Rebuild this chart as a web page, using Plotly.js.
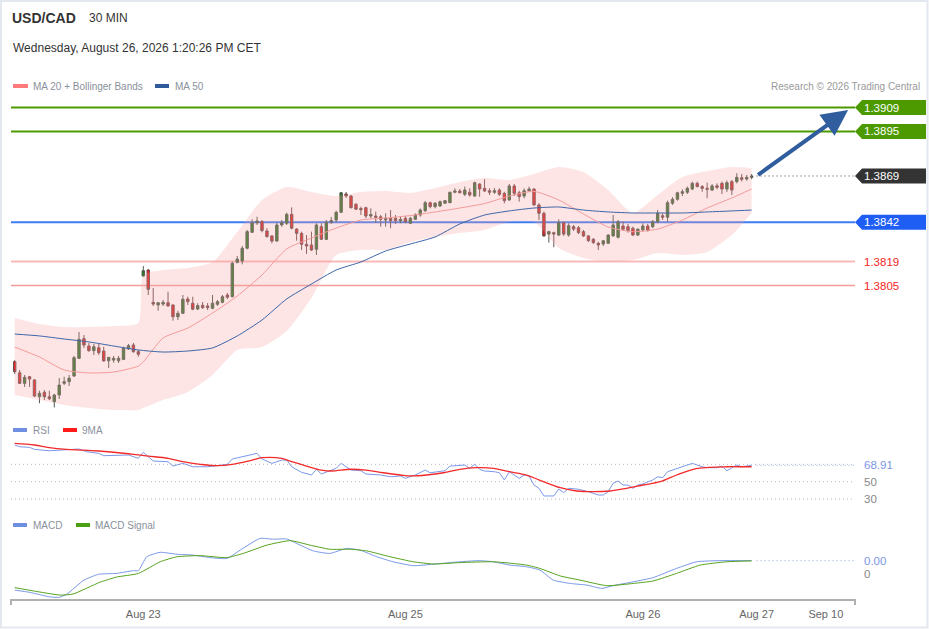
<!DOCTYPE html>
<html><head><meta charset="utf-8">
<script src="https://cdn.plot.ly/plotly-3.0.1.min.js"></script>
<style>html,body{margin:0;padding:0;background:#fff;}#chart{width:929px;height:629px;}</style>
</head><body><div id="chart"></div>
<script>
// ---------- DATA ----------
const symbol = "USD/CAD";
const period = "30 MIN";
const stamp = "Wednesday, August 26, 2026 1:20:26 PM CET";

const tickIdx = [26, 79, 127, 150, 164];
const tickLabels = ["Aug 23", "Aug 25", "Aug 26", "Aug 27", "Sep 10"];

const open = [
1.37606,1.37541,1.37479,1.37518,1.37499,1.37401,1.37427,1.37401,1.37372,1.37411,
1.37479,1.37489,1.37522,1.37625,1.37740,1.37697,1.37670,1.37687,1.37668,1.37611,
1.37615,1.37611,1.37619,1.37680,1.37703,1.37664,1.38106,1.38141,1.37952,1.37937,
1.37942,1.37950,1.37937,1.37868,1.37888,1.37972,1.37947,1.37913,1.37935,1.37931,
1.37917,1.37941,1.37952,1.37995,1.37985,1.38186,1.38194,1.38268,1.38361,1.38417,
1.38423,1.38369,1.38340,1.38310,1.38404,1.38414,1.38466,1.38380,1.38355,1.38291,
1.38287,1.38262,1.38394,1.38320,1.38421,1.38433,1.38478,1.38585,1.38573,1.38525,
1.38500,1.38505,1.38456,1.38456,1.38452,1.38433,1.38443,1.38443,1.38427,1.38443,
1.38414,1.38437,1.38462,1.38487,1.38534,1.38511,1.38515,1.38531,1.38534,1.38595,
1.38602,1.38583,1.38595,1.38573,1.38643,1.38618,1.38604,1.38595,1.38608,1.38589,
1.38550,1.38632,1.38592,1.38573,1.38604,1.38614,1.38521,1.38472,1.38351,1.38359,
1.38345,1.38417,1.38345,1.38394,1.38388,1.38365,1.38340,1.38320,1.38297,1.38293,
1.38297,1.38340,1.38332,1.38398,1.38394,1.38385,1.38345,1.38375,1.38398,1.38394,
1.38423,1.38458,1.38449,1.38531,1.38554,1.38589,1.38595,1.38614,1.38647,1.38628,
1.38618,1.38608,1.38633,1.38647,1.38614,1.38657,1.38657,1.38680,1.38672,1.38682];
const high = [
1.37615,1.37557,1.37528,1.37522,1.37504,1.37436,1.37440,1.37436,1.37417,1.37510,
1.37518,1.37528,1.37639,1.37779,1.37761,1.37715,1.37709,1.37709,1.37693,1.37633,
1.37639,1.37639,1.37693,1.37709,1.37715,1.37674,1.38164,1.38147,1.38036,1.37954,
1.37966,1.38014,1.37940,1.37903,1.37995,1.37985,1.37985,1.37947,1.37954,1.37948,
1.37995,1.37966,1.37995,1.38007,1.38190,1.38223,1.38281,1.38375,1.38437,1.38452,
1.38433,1.38385,1.38345,1.38417,1.38433,1.38476,1.38507,1.38385,1.38365,1.38345,
1.38365,1.38414,1.38414,1.38433,1.38451,1.38487,1.38597,1.38597,1.38579,1.38532,
1.38511,1.38511,1.38501,1.38482,1.38462,1.38472,1.38491,1.38462,1.38456,1.38456,
1.38452,1.38472,1.38501,1.38544,1.38540,1.38538,1.38546,1.38550,1.38598,1.38618,
1.38614,1.38628,1.38618,1.38657,1.38647,1.38671,1.38618,1.38620,1.38618,1.38598,
1.38643,1.38643,1.38604,1.38618,1.38628,1.38618,1.38531,1.38482,1.38371,1.38365,
1.38437,1.38423,1.38414,1.38404,1.38398,1.38375,1.38345,1.38328,1.38306,1.38316,
1.38351,1.38462,1.38433,1.38423,1.38410,1.38394,1.38385,1.38414,1.38410,1.38433,
1.38491,1.38472,1.38546,1.38566,1.38598,1.38612,1.38628,1.38657,1.38657,1.38637,
1.38651,1.38643,1.38647,1.38657,1.38663,1.38667,1.38706,1.38702,1.38696,1.38702];
const low = [
1.37534,1.37475,1.37458,1.37458,1.37399,1.37363,1.37382,1.37382,1.37339,1.37388,
1.37469,1.37464,1.37516,1.37621,1.37686,1.37664,1.37645,1.37645,1.37606,1.37569,
1.37600,1.37598,1.37615,1.37674,1.37658,1.37635,1.38102,1.37995,1.37931,1.37903,
1.37931,1.37927,1.37845,1.37849,1.37884,1.37937,1.37907,1.37907,1.37913,1.37907,
1.37912,1.37931,1.37947,1.37972,1.37982,1.38180,1.38174,1.38262,1.38359,1.38404,
1.38361,1.38330,1.38297,1.38306,1.38394,1.38404,1.38379,1.38312,1.38258,1.38235,
1.38252,1.38229,1.38316,1.38316,1.38410,1.38421,1.38474,1.38562,1.38500,1.38491,
1.38462,1.38443,1.38443,1.38417,1.38394,1.38394,1.38385,1.38410,1.38414,1.38414,
1.38410,1.38433,1.38452,1.38480,1.38501,1.38501,1.38509,1.38527,1.38532,1.38589,
1.38589,1.38573,1.38569,1.38569,1.38569,1.38598,1.38579,1.38585,1.38573,1.38531,
1.38546,1.38573,1.38540,1.38560,1.38598,1.38517,1.38433,1.38336,1.38301,1.38274,
1.38340,1.38340,1.38336,1.38369,1.38351,1.38334,1.38305,1.38293,1.38258,1.38281,
1.38293,1.38336,1.38326,1.38371,1.38359,1.38340,1.38340,1.38365,1.38365,1.38385,
1.38414,1.38433,1.38423,1.38521,1.38546,1.38573,1.38585,1.38608,1.38624,1.38598,
1.38560,1.38602,1.38612,1.38585,1.38597,1.38579,1.38647,1.38657,1.38663,1.38671];
const close = [
1.37547,1.37479,1.37514,1.37504,1.37405,1.37421,1.37401,1.37389,1.37411,1.37469,
1.37489,1.37509,1.37629,1.37736,1.37703,1.37670,1.37693,1.37658,1.37610,1.37631,
1.37625,1.37625,1.37684,1.37699,1.37664,1.37649,1.38137,1.38028,1.37942,1.37950,
1.37952,1.37931,1.37868,1.37888,1.37970,1.37956,1.37912,1.37933,1.37921,1.37921,
1.37947,1.37956,1.37985,1.37982,1.38180,1.38205,1.38268,1.38365,1.38417,1.38427,
1.38371,1.38336,1.38310,1.38404,1.38417,1.38466,1.38385,1.38355,1.38291,1.38281,
1.38258,1.38404,1.38320,1.38420,1.38430,1.38478,1.38592,1.38573,1.38505,1.38496,
1.38493,1.38456,1.38465,1.38449,1.38437,1.38443,1.38429,1.38429,1.38437,1.38423,
1.38443,1.38462,1.38491,1.38534,1.38511,1.38531,1.38540,1.38546,1.38595,1.38602,
1.38592,1.38608,1.38579,1.38651,1.38614,1.38602,1.38595,1.38604,1.38583,1.38546,
1.38632,1.38589,1.38569,1.38604,1.38614,1.38521,1.38472,1.38340,1.38365,1.38351,
1.38417,1.38351,1.38400,1.38380,1.38359,1.38340,1.38312,1.38301,1.38287,1.38312,
1.38345,1.38404,1.38423,1.38379,1.38371,1.38345,1.38379,1.38398,1.38371,1.38423,
1.38472,1.38449,1.38534,1.38554,1.38592,1.38598,1.38618,1.38647,1.38628,1.38618,
1.38612,1.38632,1.38624,1.38614,1.38651,1.38608,1.38682,1.38671,1.38682,1.38690];

const bandIdx = [0,5,10,15,20,25,26,30,35,40,45,50,55,60,65,70,75,80,85,90,95,100,105,110,115,120,125,130,135,140,145,149];
const bbUpper = [1.37861,1.37826,1.37808,1.37808,1.37814,1.37832,1.38112,1.38141,1.38153,1.38188,1.38363,1.38550,1.38626,1.38597,1.38573,1.38597,1.38602,1.38591,1.38620,1.38655,1.38678,1.38667,1.38702,1.38743,1.38713,1.38608,1.38474,1.38579,1.38684,1.38719,1.38743,1.38737];
const bbLower = [1.37411,1.37382,1.37353,1.37335,1.37323,1.37323,1.37335,1.37382,1.37429,1.37528,1.37674,1.37691,1.37785,1.37978,1.38229,1.38258,1.38258,1.38305,1.38334,1.38357,1.38375,1.38421,1.38421,1.38270,1.38211,1.38188,1.38199,1.38240,1.38229,1.38246,1.38345,1.38474];
const ma20 = [1.37691,1.37633,1.37557,1.37540,1.37545,1.37580,1.37604,1.37744,1.37802,1.37890,1.37989,1.38112,1.38264,1.38328,1.38386,1.38433,1.38445,1.38459,1.38480,1.38503,1.38529,1.38573,1.38600,1.38550,1.38468,1.38392,1.38365,1.38380,1.38433,1.38503,1.38562,1.38614];
const ma50Idx = [0,5,10,15,20,25,30,35,40,45,50,55,60,65,70,75,80,85,90,95,100,105,110,115,120,125,130,135,140,145,149];
const ma50 = [1.37767,1.37756,1.37738,1.37721,1.37697,1.37674,1.37662,1.37668,1.37686,1.37756,1.37849,1.37972,1.38059,1.38141,1.38188,1.38252,1.38293,1.38334,1.38410,1.38462,1.38486,1.38503,1.38509,1.38491,1.38480,1.38474,1.38474,1.38474,1.38480,1.38486,1.38491];

const resistances = [1.3909, 1.3895];
const pivot = 1.3842;
const supports = [1.3819, 1.3805];
const lastPrice = 1.3869;
const arrowEndIdx = 168.5;
const arrowEndPrice = 1.39075;

const rsiIdx = [0,1,3,4,7,10.5,13,14.5,17,18,21,23,25,26,28,31,32,34,36,39,41,43,44,46,49,50,52,54,55,56,58,60,61,62,64,65,66,68,70,71,74,76,78,79,81,83,84,87,88,90,91,92,93,94,95,97,98,99,100,102,103,104,105,106,107,108,109,110,111,112,114,116,118,119,120,121,122,123,124,125,126,127,129,130,131,132,134,135,137,139,140,142,143,144,145,146,147,148,149];
const rsiVal = [92.2,90.2,89.5,87.2,85.6,86.4,87.6,84.5,82.6,79.9,79.9,80.7,76.9,83.8,73.8,73,68,71.1,67.2,67.2,68.4,70,76.1,78.7,82.6,76.1,71.1,74.9,74.9,67.2,60.8,57.7,64.3,58.9,63.4,65.4,71.1,63.4,62.6,58.9,57.7,55.7,56.6,53.9,57.7,63.4,60.3,62.6,68,68.4,69.2,65.4,70,64.3,62.3,61.5,60.3,52,61.5,53.9,57.7,56.6,46.2,42.4,33.6,33.6,33.6,41.6,37.4,42.4,41.3,38.5,34.7,34.7,38.5,48.2,50.8,46.2,46.2,42.4,46.2,47.4,52,55.7,54.6,61.5,65.4,67.2,71.1,67.2,66.1,66.1,68,62.6,66.1,69.2,67.2,68.4,68.91];
const rsiMaIdx = [0,4,7,10.5,14,17,21,24,27,31,34,37.5,41,44,48,50,54,56,59,62,64,68,71,74.5,78,80,83.3,86.7,90,93.4,96.8,100,103.5,106.9,110.3,113.6,117,120.4,123.7,127.1,130.5,133.8,137.2,140.6,144,147.3,149];
const rsiMaVal = [94.1,92.2,89.1,87.2,86.4,85.3,83.3,81.5,79.5,76.9,73,70,68.4,70,74.9,77.6,76.9,73,68,63.4,62.3,64.3,63.4,60.3,57.7,56.6,57.7,60.3,64.3,66.1,65.4,61.5,57.7,50,43.1,39.3,38.5,39.3,42.4,46.2,50,57.7,64.3,66.6,67.2,67.2,67.2];
const rsiLevels = [70, 50, 30];
const rsiTickVals = [50, 30];

const macdIdx = [0,3,7,9,10.5,14,17,20.5,24,25,26.7,29.4,32.8,36.1,39.5,42.9,45.6,49.6,52.3,55,57.7,60.4,63.7,67.1,69.8,73.2,76.5,80.6,84.6,90,94,96.8,100.1,103.5,106.2,108.9,112.3,115.7,118.7,121,125.1,129.1,133.8,137.9,142.6,149];
const macdVal = [-0.00058,-0.00066,-0.00082,-0.00084,-0.00073,-0.00022,-0.00001,0.00002,0.00012,0.00012,0.00062,0.00078,0.00071,0.00068,0.00059,0.00056,0.00086,0.00128,0.00125,0.00126,0.00104,0.00083,0.00074,0.00092,0.00086,0.00062,0.00044,0.00030,0.00035,0.00044,0.00048,0.00044,0.00032,0.00026,0.00014,-0.00022,-0.00034,-0.00040,-0.00052,-0.00042,-0.00028,-0.00013,0.00020,0.00044,0.00048,0.00048];
const sigIdx = [0,3.8,9.2,11.8,17.2,20.6,25,29.4,32.8,37.5,42.9,46.2,51,55.7,59.7,63.7,67.8,71.2,75.9,80.6,84.6,90,96.8,103.5,106.2,110.3,114.3,119.7,125.1,129.1,133.8,138.6,144,149];
const sigVal = [-0.00049,-0.00061,-0.00076,-0.00072,-0.00030,-0.00011,0.00002,0.00044,0.00062,0.00066,0.00059,0.00074,0.00104,0.00120,0.00104,0.00089,0.00089,0.00083,0.00062,0.00044,0.00036,0.00041,0.00044,0.00032,0.00020,-0.00007,-0.00022,-0.00042,-0.00034,-0.00025,0.00002,0.00032,0.00044,0.00047];
const macdTickVals = [0];

// ---------- LAYOUT HELPERS ----------
const W = 929, H = 629, ML = 11, MR = 74, MT = 95, MB = 30;
const PW = W - ML - MR, PH = H - MT - MB;
const fx = p => (p - ML) / PW;
const fy = p => 1 - (p - MT) / PH;
const FONT = "Liberation Sans, Arial, sans-serif";
const DOTS = '1px,3px';

const idx = open.map((_, i) => i);
const lastIdx = idx[idx.length - 1];
const xMax = 169.9;

const traces = [
  {type:'scatter', mode:'lines', x:bandIdx, y:bbUpper, line:{width:0, shape:'spline', smoothing:0.6}, xaxis:'x', yaxis:'y', hoverinfo:'skip'},
  {type:'scatter', mode:'lines', x:bandIdx, y:bbLower, line:{width:0, shape:'spline', smoothing:0.6}, fill:'tonexty', fillcolor:'rgba(248,160,160,0.28)', xaxis:'x', yaxis:'y', hoverinfo:'skip'},
  {type:'scatter', mode:'lines', x:bandIdx, y:ma20, line:{width:1, color:'#f59a9a', shape:'spline', smoothing:0.6}, xaxis:'x', yaxis:'y'},
  {type:'scatter', mode:'lines', x:ma50Idx, y:ma50, line:{width:1, color:'#3c64a8', shape:'spline', smoothing:0.6}, xaxis:'x', yaxis:'y'},
  {type:'candlestick', x:idx, open:open, high:high, low:low, close:close, xaxis:'x', yaxis:'y',
   increasing:{line:{color:'#4d5a4d', width:1}, fillcolor:'#1d7a1d'},
   decreasing:{line:{color:'#6a4e4e', width:1}, fillcolor:'#ec1a1a'}, whiskerwidth:0},
  {type:'scatter', mode:'lines', x:rsiIdx, y:rsiVal, line:{width:1, color:'#7b98e8'}, xaxis:'x', yaxis:'y2'},
  {type:'scatter', mode:'lines', x:rsiMaIdx, y:rsiMaVal, line:{width:1.3, color:'#f22a2a', shape:'spline'}, xaxis:'x', yaxis:'y2'},
  {type:'scatter', mode:'lines', x:macdIdx, y:macdVal, line:{width:1, color:'#7b98e8', shape:'spline', smoothing:0.5}, xaxis:'x', yaxis:'y3'},
  {type:'scatter', mode:'lines', x:sigIdx, y:sigVal, line:{width:1, color:'#55a31c', shape:'spline', smoothing:0.5}, xaxis:'x', yaxis:'y3'}
];

const shapes = [];
const annotations = [];

// frame
shapes.push({type:'rect', xref:'paper', yref:'paper', x0:fx(1), x1:fx(927.5), y0:fy(627.5), y1:fy(1), line:{color:'#e3e8ee', width:2}, layer:'below'});

// level lines
const levelLine = (v, color, w) => shapes.push({type:'line', xref:'paper', yref:'y', x0:0, x1:1, y0:v, y1:v, line:{color:color, width:w}, layer:'below'});
resistances.forEach(v => levelLine(v, '#4c9a00', 2));
levelLine(pivot, '#3d7cf3', 2);
levelLine(supports[0], '#f9b9b9', 2);
levelLine(supports[1], '#f29c9c', 1.5);

// last price dotted
shapes.push({type:'line', xref:'x', yref:'y', x0:lastIdx + 1, x1:xMax, y0:lastPrice, y1:lastPrice, line:{color:'#444', width:1, dash:DOTS}});

// label boxes
const boxPath = "M0,0L7,7.5L71,7.5L71,-7.5L7,-7.5Z";
const labelBox = (v, color) => {
  shapes.push({type:'path', xref:'paper', yref:'y', xsizemode:'pixel', ysizemode:'pixel', xanchor:1, yanchor:v, path:boxPath, fillcolor:color, line:{width:0}});
  annotations.push({xref:'paper', yref:'y', x:1, y:v, xanchor:'left', yanchor:'middle', xshift:7, text:v.toFixed(4), showarrow:false, font:{family:FONT, size:11.5, color:'#ffffff'}});
};
resistances.forEach(v => labelBox(v, '#4c9a00'));
labelBox(lastPrice, '#333333');
labelBox(pivot, '#1f5ef5');
supports.forEach(v => annotations.push({xref:'paper', yref:'y', x:1, y:v, xanchor:'left', yanchor:'middle', xshift:7, text:v.toFixed(4), showarrow:false, font:{family:FONT, size:11.5, color:'#f52626'}}));

// arrow
annotations.push({xref:'x', yref:'y', x:arrowEndIdx, y:arrowEndPrice, axref:'x', ayref:'y', ax:lastIdx + 1, ay:lastPrice, text:'', showarrow:true, arrowhead:2, arrowsize:1.3, arrowwidth:4, arrowcolor:'#2f5d9e'});

// RSI levels
rsiLevels.forEach(v => shapes.push({type:'line', xref:'paper', yref:'y2', x0:0, x1:1, y0:v, y1:v, line:{color:'#b8b8b8', width:1, dash:DOTS}, layer:'below'}));
const lastRsi = rsiVal[rsiVal.length - 1];
shapes.push({type:'line', xref:'x', yref:'y2', x0:lastIdx + 1, x1:xMax, y0:lastRsi, y1:lastRsi, line:{color:'#8ea8ec', width:1, dash:DOTS}});
annotations.push({xref:'paper', yref:'y2', x:1, y:lastRsi, xanchor:'left', yanchor:'middle', xshift:7, text:lastRsi.toFixed(2), showarrow:false, font:{family:FONT, size:11.5, color:'#7b96e6'}});
rsiTickVals.forEach(v => annotations.push({xref:'paper', yref:'y2', x:1, y:v, xanchor:'left', yanchor:'middle', xshift:7, text:String(v), showarrow:false, font:{family:FONT, size:11.5, color:'#888'}}));

// MACD last
const lastMacd = macdVal[macdVal.length - 1];
shapes.push({type:'line', xref:'x', yref:'y3', x0:lastIdx + 1, x1:xMax, y0:lastMacd, y1:lastMacd, line:{color:'#8ea8ec', width:1, dash:DOTS}});
annotations.push({xref:'paper', yref:'y3', x:1, y:lastMacd, xanchor:'left', yanchor:'middle', xshift:7, text:lastMacd.toFixed(2), showarrow:false, font:{family:FONT, size:11.5, color:'#7b96e6'}});
macdTickVals.forEach(v => annotations.push({xref:'paper', yref:'y3', x:1, y:v, xanchor:'left', yanchor:'middle', xshift:7, text:String(v), showarrow:false, font:{family:FONT, size:11.5, color:'#888'}}));

// x-axis end ticks
[11, 855].forEach(p => shapes.push({type:'line', xref:'paper', yref:'paper', x0:fx(p), x1:fx(p), y0:fy(599), y1:fy(605), line:{color:'#b0b0b0', width:2}}));

// header texts
const txt = (px, py, text, size, color, anchor) => annotations.push({xref:'paper', yref:'paper', x:fx(px), y:fy(py), xanchor:anchor || 'left', yanchor:'middle', text:text, showarrow:false, font:{family:FONT, size:size, color:color}});
txt(10, 18, '<b>' + symbol + '</b>', 14, '#333');
txt(87, 18, period, 12, '#333');
txt(11, 48, stamp, 12, '#333');

// legends
const swatch = (x0, x1, py, color) => shapes.push({type:'rect', xref:'paper', yref:'paper', x0:fx(x0), x1:fx(x1), y0:fy(py + 2), y1:fy(py - 2), fillcolor:color, line:{width:0}});
swatch(13, 28, 86, '#ff7b7b'); txt(31, 86, 'MA 20 + Bollinger Bands', 10, '#8a919c');
swatch(155, 169, 86, '#2e5a9c'); txt(173, 86, 'MA 50', 10, '#8a919c');
txt(922, 86, 'Research © 2026 Trading Central', 10, '#9a9a9a', 'right');
swatch(13, 27, 430, '#6f8fe0'); txt(31, 430, 'RSI', 10, '#8a919c');
swatch(63, 77, 430, '#ff1a1a'); txt(80, 430, '9MA', 10, '#8a919c');
swatch(13, 27, 525, '#6f8fe0'); txt(31, 525, 'MACD', 10, '#8a919c');
swatch(76, 90, 525, '#4aa010'); txt(93, 525, 'MACD Signal', 10, '#8a919c');

const layout = {
  width: W, height: H,
  margin: {l:ML, r:MR, t:MT, b:MB, pad:0},
  paper_bgcolor:'#ffffff', plot_bgcolor:'#ffffff',
  showlegend:false, hovermode:false,
  font:{family:FONT},
  xaxis:{range:[-0.75, xMax], anchor:'y3', showgrid:false, zeroline:false, showline:true, linecolor:'#b0b0b0', linewidth:2,
         tickvals:tickIdx, ticktext:tickLabels, ticks:'outside', ticklen:4, tickcolor:'rgba(0,0,0,0)',
         tickfont:{family:FONT, size:11, color:'#666'}, rangeslider:{visible:false}, fixedrange:true},
  yaxis:{domain:[0.365, 1], range:[1.37294, 1.39163], showgrid:false, zeroline:false, showticklabels:false, showline:false},
  yaxis2:{domain:[0.1865, 0.3214], range:[23.2, 101.4], showgrid:false, zeroline:false, showticklabels:false, showline:false},
  yaxis3:{domain:[0, 0.131], range:[-0.0009, 0.001476], showgrid:false, zeroline:false, showticklabels:false, showline:false},
  shapes: shapes,
  annotations: annotations
};

Plotly.newPlot('chart', traces, layout, {staticPlot:true, displayModeBar:false});
</script>
</body></html>
